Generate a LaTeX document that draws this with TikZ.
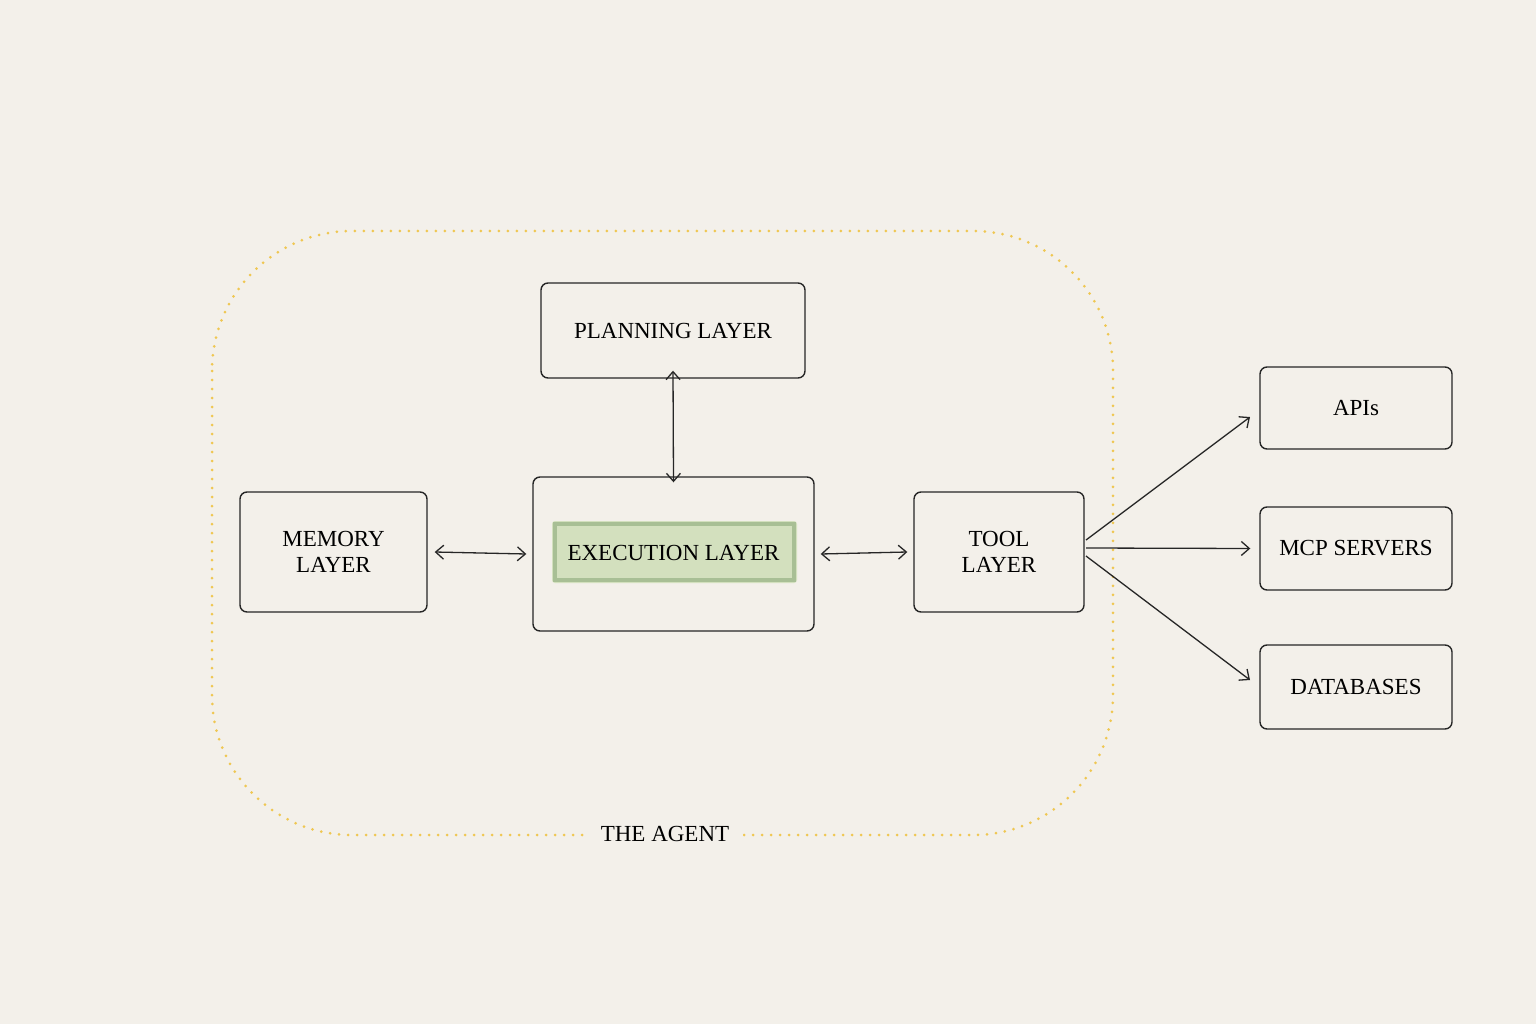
\documentclass[tikz,border=0pt]{standalone}
\usepackage{fontspec}
\setmainfont{Liberation Serif}
\usetikzlibrary{arrows.meta}
\definecolor{bg}{HTML}{F3F0EA}
\definecolor{agent}{HTML}{EFC752}
\definecolor{hl}{HTML}{B9D49A}
\begin{document}
\begin{tikzpicture}[x=1pt,y=-1pt,
  box/.style={draw=black!85,line width=1.4pt,rounded corners=7pt,align=center,font=\fontsize{23}{26}\selectfont,inner sep=0pt},
  link/.style={draw=black!85,line width=1.3pt,{Straight Barb[length=8pt,width=14pt]}-{Straight Barb[length=8pt,width=14pt]}},
  outarr/.style={draw=black!85,line width=1.3pt,-{Straight Barb[length=8pt,width=14pt]}}]
\fill[bg] (0,0) rectangle (1536,1024);
\useasboundingbox (0,0) rectangle (1536,1024);
\draw[agent,line width=3pt,line cap=round,dash pattern=on 0pt off 9pt,rounded corners=140pt]
  (212,231) rectangle (1113,835);
\node[fill=bg,inner xsep=14pt,inner ysep=4pt,font=\fontsize{23}{26}\selectfont] (agentlbl) at (665,834) {THE AGENT};
\node[box,minimum width=264pt,minimum height=95pt] (plan) at (673,330.5) {PLANNING LAYER};
\node[box,minimum width=187pt,minimum height=120pt] (mem) at (333.5,552) {MEMORY\\LAYER};
\node[box,minimum width=281pt,minimum height=154pt] (exec) at (673.5,554) {};
\fill[hl,opacity=0.55,rounded corners=3pt] (552,521) rectangle (797,583);
\draw[hl!80!green!60!black,opacity=0.35,line width=4pt] (555,524) rectangle (794,580);
\node[font=\fontsize{23}{26}\selectfont] (execlbl) at (673.5,553) {EXECUTION LAYER};
\node[box,minimum width=170pt,minimum height=120pt] (tool) at (999,552) {TOOL\\LAYER};
\node[box,minimum width=192pt,minimum height=82pt] (api) at (1356,408) {APIs};
\node[box,minimum width=192pt,minimum height=83pt] (mcp) at (1356,548.5) {MCP SERVERS};
\node[box,minimum width=192pt,minimum height=84pt] (db) at (1356,687) {DATABASES};
\draw[link] ([yshift=8pt]plan.south) -- ([yshift=-6pt]exec.north);
\draw[link] ([xshift=7pt]mem.east) -- ([xshift=-6pt]exec.west);
\draw[link] ([xshift=6pt]exec.east) -- ([xshift=-6pt]tool.west);
\coordinate (t1) at (1086,540);
\coordinate (t2) at (1086,548);
\coordinate (t3) at (1086,556);
\coordinate (a1) at (1250,417);
\coordinate (a3) at (1250,680);
\draw[outarr] (t1) -- (a1);
\draw[outarr] (t2) -- ([xshift=-9pt]mcp.west);
\draw[outarr] (t3) -- (a3);
\end{tikzpicture}
\end{document}
